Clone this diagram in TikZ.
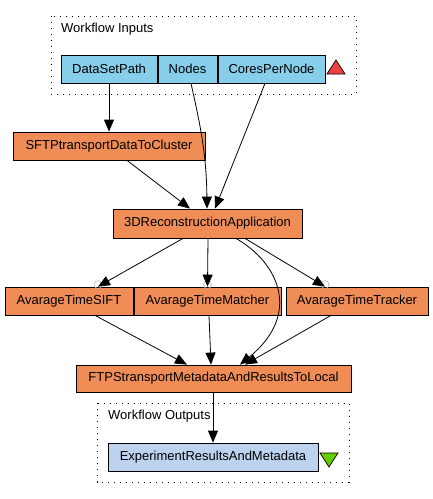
\documentclass[tikz,border=0pt]{standalone}
\usepackage{fontspec}
\setmainfont{Liberation Sans}
\usetikzlibrary{arrows.meta}
\definecolor{inblue}{RGB}{135,206,235}
\definecolor{procorange}{RGB}{240,140,85}
\definecolor{outblue}{RGB}{188,210,238}
\definecolor{trired}{RGB}{240,64,64}
\definecolor{trigreen}{RGB}{102,204,0}
\tikzset{
  box/.style={draw=black, line width=0.8pt, minimum height=28pt, inner sep=0pt, font=\fontsize{13}{15}\selectfont},
  inbox/.style={box, fill=inblue},
  procbox/.style={box, fill=procorange},
  outbox/.style={box, fill=outblue},
  group/.style={draw=black, line width=0.9pt, dash pattern=on 1.2pt off 4.8pt},
  grouplabel/.style={anchor=west, inner sep=0pt, font=\fontsize{13}{15}\selectfont},
  conn/.style={draw=black, line width=0.8pt, -{Triangle[length=12pt,width=10pt]}},
  port/.style={draw=gray!60, line width=0.6pt},
}
\begin{document}
\begin{tikzpicture}[x=1pt,y=-1pt]
\useasboundingbox (0,0) rectangle (433,499);
% groups
\draw[group] (51,16) rectangle (356,94);
\node[grouplabel] (inlab) at (61,29) {Workflow Inputs};
\draw[group] (97,403) rectangle (349,482);
\node[grouplabel] (outlab) at (108,416) {Workflow Outputs};
% inputs
\node[inbox, minimum width=96pt] (dsp) at (109,69) {DataSetPath};
\node[inbox, minimum width=59pt] (nodes) at (187.5,69) {Nodes};
\node[inbox, minimum width=107pt] (cores) at (271.5,69) {CoresPerNode};
\draw[fill=trired, line width=0.7pt] (327,74) -- (345,74) -- (336,60) -- cycle;
% processors
\node[procbox, minimum width=192pt] (sftp) at (109,146) {SFTPtransportDataToCluster};
\node[procbox, minimum width=189pt, minimum height=29pt] (rec) at (207.5,223.5) {3DReconstructionApplication};
\node[procbox, minimum width=128pt] (sift) at (69,301) {AvarageTimeSIFT};
\node[procbox, minimum width=147pt] (match) at (207.5,301) {AvarageTimeMatcher};
\node[procbox, minimum width=142pt] (track) at (357,301) {AvarageTimeTracker};
\node[procbox, minimum width=275pt, minimum height=27pt] (ftps) at (213.5,378.5) {FTPStransportMetadataAndResultsToLocal};
% output
\node[outbox, minimum width=210pt] (exp) at (213,457) {ExperimentResultsAndMetadata};
\draw[fill=trigreen, line width=0.7pt] (320,453) -- (338,453) -- (329,467) -- cycle;
% ports
\coordinate (p1) at ([xshift=29pt,yshift=2pt]sift.north);
\coordinate (p2) at ([xshift=0pt,yshift=2pt]match.north);
\coordinate (p3) at ([xshift=-32pt,yshift=2pt]track.north);
\draw[port] (p1) circle (4pt);
\draw[port] (p2) circle (4pt);
\draw[port] (p3) circle (4pt);
% connectors
\draw[conn] (dsp.south) -- (sftp.north);
\draw[conn] ([xshift=3.5pt]nodes.south) .. controls ([xshift=10pt,yshift=-30pt]nodes.south) and ([xshift=-1pt,yshift=60pt]rec.north) .. ([xshift=-0.5pt]rec.north);
\draw[conn] ([xshift=-6.5pt]cores.south) -- ([xshift=7.5pt]rec.north);
\draw[conn] ([xshift=18pt]sftp.south) -- ([xshift=-17.5pt]rec.north);
\draw[conn] ([xshift=-24.5pt]rec.south) -- ([xshift=29pt]sift.north);
\draw[conn] ([xshift=0.5pt]rec.south) -- (match.north);
\draw[conn] ([xshift=37.5pt]rec.south) -- ([xshift=-32pt]track.north);
\draw[conn] ([xshift=28.5pt]rec.south) .. controls ([xshift=72pt,yshift=-25pt]rec.south) and ([xshift=88pt,yshift=50pt]ftps.north) .. ([xshift=26.5pt]ftps.north);
\draw[conn] ([xshift=26pt]sift.south) -- ([xshift=-26.5pt]ftps.north);
\draw[conn] ([xshift=1.5pt]match.south) -- ([xshift=-2.5pt]ftps.north);
\draw[conn] ([xshift=-26pt]track.south) -- ([xshift=31.5pt]ftps.north);
\draw[conn] ([xshift=-0.5pt]ftps.south) -- (exp.north);
\end{tikzpicture}
\end{document}
